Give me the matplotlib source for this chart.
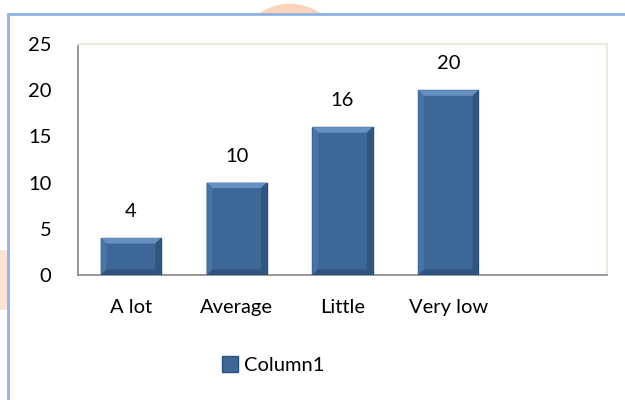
import matplotlib.pyplot as plt
from matplotlib.patches import Rectangle, Arc, Polygon

categories = ["A lot", "Average", "Little", "Very low", ""]
values = [4, 10, 16, 20]
series_name = "Column1"
y_ticks = [0, 5, 10, 15, 20, 25]

plt.rcParams['font.family'] = ['Lato', 'DejaVu Sans']

fig = plt.figure(figsize=(6.25, 4), dpi=100)
ax = fig.add_axes([78 / 625, 1 - 275 / 400, 529 / 625, 231 / 400])

# faint orange watermark, only visible outside the chart frame
fig.patches.append(Arc((290 / 625, 1 - 70 / 400), 0.17, 0.3, theta1=35, theta2=150,
                       transform=fig.transFigure, color='#fbd3bb', lw=9, zorder=-3))
fig.patches.append(Rectangle((0, 1 - 310 / 400), 12 / 625, 60 / 400, transform=fig.transFigure,
                             facecolor='#fde3d3', edgecolor='none', zorder=-3))

# outer chart frame (cut off at right and bottom)
fig.patches.append(Rectangle((8 / 625, -0.05), 1.0, 1 - 14 / 400 + 0.05, transform=fig.transFigure,
                             facecolor='white', edgecolor='#8db3e2', lw=2, clip_on=False, zorder=-1))

x = list(range(len(values)))
w = 0.57
bars = ax.bar(x, values, width=w, color='#3d6797', edgecolor='#2c4f7e', lw=1.0, zorder=3,
              label=series_name)
bx, by = 0.055, 0.6
for b, v in zip(bars, values):
    x0, x1 = b.get_x(), b.get_x() + b.get_width()
    # bevel: light top, slightly light left, darker right and bottom
    ax.add_patch(Polygon([(x0, v), (x1, v), (x1 - bx, v - by), (x0 + bx, v - by)],
                         facecolor='#6690c2', edgecolor='none', zorder=4))
    ax.add_patch(Polygon([(x0, 0), (x0, v), (x0 + bx, v - by), (x0 + bx, by)],
                         facecolor='#4873a5', edgecolor='none', zorder=4))
    ax.add_patch(Polygon([(x1, 0), (x1, v), (x1 - bx, v - by), (x1 - bx, by)],
                         facecolor='#30557f', edgecolor='none', zorder=4))
    ax.add_patch(Polygon([(x0, 0), (x1, 0), (x1 - bx, by), (x0 + bx, by)],
                         facecolor='#2f5380', edgecolor='none', zorder=4))
    ax.annotate(str(v), (b.get_x() + b.get_width() / 2, v), xytext=(0, 19),
                textcoords='offset points', ha='center', va='center', fontsize=14.5)

ax.set_xlim(-0.5, len(categories) - 0.5)
ax.set_ylim(0, 25)
ax.set_yticks(y_ticks)
ax.set_xticks(range(len(categories)))
ax.set_xticklabels(categories)
ax.tick_params(axis='both', length=0, labelsize=14.5)
ax.tick_params(axis='y', pad=19)
ax.tick_params(axis='x', pad=17)

for s in ['top', 'right']:
    ax.spines[s].set_color('#ebe8dc')
    ax.spines[s].set_linewidth(1.5)
for s in ['left', 'bottom']:
    ax.spines[s].set_color('#868686')
    ax.spines[s].set_linewidth(1.2)

fig.legend(handles=[bars], labels=[series_name], loc='center', bbox_to_anchor=(273 / 625, 1 - 365 / 400),
           frameon=False, fontsize=14.5, handlelength=0.8, handleheight=0.8, handletextpad=0.3)

fig.savefig("out.png", dpi=100, facecolor='white')
